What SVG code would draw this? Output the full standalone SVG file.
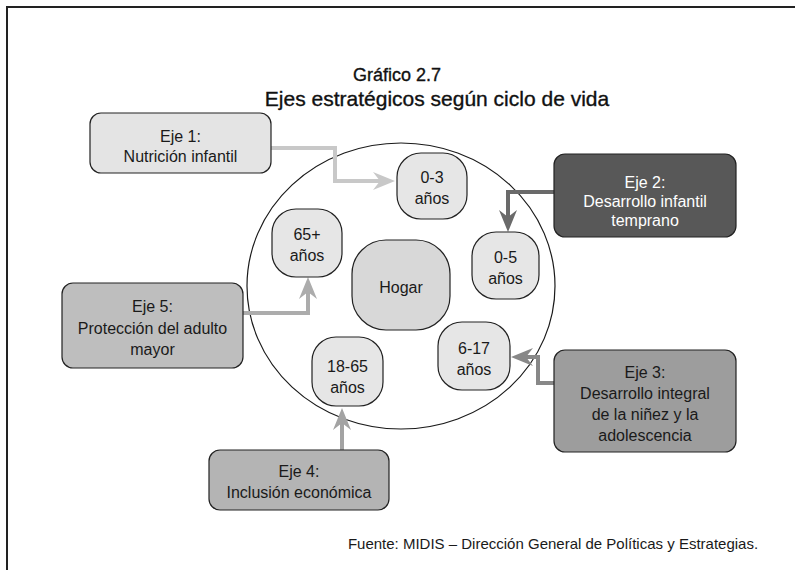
<svg xmlns="http://www.w3.org/2000/svg" width="795" height="570" viewBox="0 0 795 570">
<style>
  text { font-family: "Liberation Sans", Arial, sans-serif; font-size: 16px; fill: #1a1a1a; text-anchor: middle; }
  .title { fill: #111; stroke: #111; stroke-width: 0.35; }
  .eje { stroke: #222; stroke-width: 1.2; }
  .age { fill: #e6e6e6; stroke: #222; stroke-width: 1.2; }
  .conn { fill: none; stroke-width: 4; stroke-linejoin: miter; }
  .white { fill: #ffffff; }
</style>
<defs>
  <marker id="a1" viewBox="-24 -10 25 20" markerWidth="25" markerHeight="20" refX="-15" refY="0" orient="auto" markerUnits="userSpaceOnUse"><path d="M0,0 L-22,-9 L-15,0 L-22,9 Z" fill="#c8c8c8"/></marker>
  <marker id="a2" viewBox="-24 -10 25 20" markerWidth="25" markerHeight="20" refX="-15" refY="0" orient="auto" markerUnits="userSpaceOnUse"><path d="M0,0 L-22,-9 L-15,0 L-22,9 Z" fill="#6a6a6a"/></marker>
  <marker id="a3" viewBox="-24 -10 25 20" markerWidth="25" markerHeight="20" refX="-15" refY="0" orient="auto" markerUnits="userSpaceOnUse"><path d="M0,0 L-22,-9 L-15,0 L-22,9 Z" fill="#888888"/></marker>
  <marker id="a4" viewBox="-24 -10 25 20" markerWidth="25" markerHeight="20" refX="-15" refY="0" orient="auto" markerUnits="userSpaceOnUse"><path d="M0,0 L-22,-9 L-15,0 L-22,9 Z" fill="#a3a3a3"/></marker>
  <marker id="a5" viewBox="-24 -10 25 20" markerWidth="25" markerHeight="20" refX="-15" refY="0" orient="auto" markerUnits="userSpaceOnUse"><path d="M0,0 L-22,-9 L-15,0 L-22,9 Z" fill="#acacac"/></marker>
</defs>
<rect width="795" height="570" fill="#ffffff"/>
<path d="M7,570 V7 H795" fill="none" stroke="#222" stroke-width="2"/>

<text class="title" x="397" y="81" style="font-size:18px">Gráfico 2.7</text>
<text class="title" x="437" y="106" style="font-size:21px">Ejes estratégicos según ciclo de vida</text>

<ellipse cx="401" cy="286" rx="154" ry="143" fill="none" stroke="#1a1a1a" stroke-width="1.2"/>

<g id="connectors">
  <path class="conn" stroke="#c8c8c8" d="M271,148 H335 V181 H380" marker-end="url(#a1)"/>
  <path class="conn" stroke="#6a6a6a" d="M554,192 H508 V217" marker-end="url(#a2)"/>
  <path class="conn" stroke="#888888" d="M554,383 H538 V357 H526" marker-end="url(#a3)"/>
  <path class="conn" stroke="#a3a3a3" d="M342,450 V423" marker-end="url(#a4)"/>
  <path class="conn" stroke="#acacac" d="M243,313 H308 V292" marker-end="url(#a5)"/>
</g>

<g id="eje1">
  <rect class="eje" x="90" y="113" width="181" height="60" rx="11" fill="#e4e4e4"/>
  <text x="180.5" y="142">Eje 1:</text>
  <text x="180.5" y="162">Nutrición infantil</text>
</g>
<g id="eje2">
  <rect class="eje" x="554" y="154" width="182" height="83" rx="11" fill="#585858"/>
  <text class="white" x="645" y="188">Eje 2:</text>
  <text class="white" x="645" y="207">Desarrollo infantil</text>
  <text class="white" x="645" y="226">temprano</text>
</g>
<g id="eje3">
  <rect class="eje" x="554" y="350" width="182" height="102" rx="11" fill="#9d9d9d"/>
  <text x="645" y="378">Eje 3:</text>
  <text x="645" y="399">Desarrollo integral</text>
  <text x="645" y="420">de la niñez y la</text>
  <text x="645" y="441">adolescencia</text>
</g>
<g id="eje4">
  <rect class="eje" x="209" y="450" width="180" height="60" rx="11" fill="#b4b4b4"/>
  <text x="299" y="477">Eje 4:</text>
  <text x="299" y="498">Inclusión económica</text>
</g>
<g id="eje5">
  <rect class="eje" x="62" y="283" width="181" height="85" rx="11" fill="#bebebe"/>
  <text x="152.5" y="312">Eje 5:</text>
  <text x="152.5" y="334">Protección del adulto</text>
  <text x="152.5" y="355">mayor</text>
</g>

<g id="age03">
  <rect class="age" x="397" y="153" width="70" height="66" rx="24"/>
  <text x="432" y="183">0-3</text>
  <text x="432" y="204">años</text>
</g>
<g id="age65">
  <rect class="age" x="272" y="209" width="70" height="68" rx="24"/>
  <text x="307" y="240">65+</text>
  <text x="307" y="261">años</text>
</g>
<g id="hogar">
  <rect x="352" y="240" width="98" height="90" rx="34" fill="#d8d8d8" stroke="#222" stroke-width="1.2"/>
  <text x="401" y="293">Hogar</text>
</g>
<g id="age05">
  <rect class="age" x="472" y="232" width="67" height="67" rx="24"/>
  <text x="505.5" y="263">0-5</text>
  <text x="505.5" y="284">años</text>
</g>
<g id="age617">
  <rect class="age" x="438" y="322" width="72" height="68" rx="24"/>
  <text x="474" y="354">6-17</text>
  <text x="474" y="375">años</text>
</g>
<g id="age1865">
  <rect class="age" x="312" y="337" width="71" height="69" rx="24"/>
  <text x="347.5" y="372">18-65</text>
  <text x="347.5" y="393">años</text>
</g>

<text x="553" y="549" style="font-size:15px">Fuente: MIDIS – Dirección General de Políticas y Estrategias.</text>
</svg>
